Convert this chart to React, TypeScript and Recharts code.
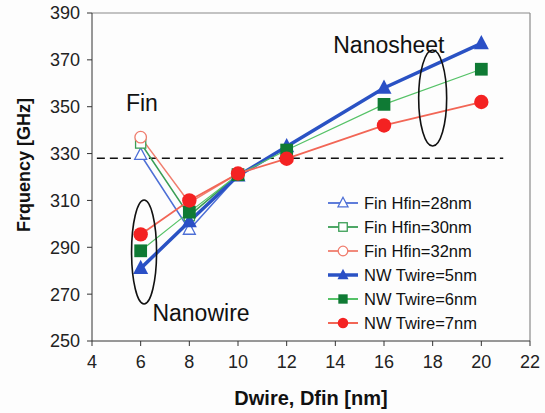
import React from "react"
import { LineChart, Line, XAxis, YAxis, ReferenceLine, ReferenceDot } from "recharts"

const wireSizes = [6, 8, 10, 12, 16, 20]
const finSizes = [6, 8, 10]

const fin28 = [329.5, 297.5, 320.5]
const fin30 = [334.5, 303.5, 321]
const fin32 = [337, 309, 321.5]
const nw5 = [281, 301, 320.5, 333, 358, 377]
const nw6 = [288.5, 305, 321, 331.5, 351, 366]
const nw7 = [295.5, 310, 321.5, 327.8, 342, 352]

const xTicks = [4, 6, 8, 10, 12, 14, 16, 18, 20, 22]
const yTicks = [250, 270, 290, 310, 330, 350, 370, 390]
const targetFreq = 328

const toPoints = (xs: number[], ys: number[]) => xs.map((x, i) => ({ x, y: ys[i] }))

type Shape = "triangle" | "square" | "circle"

interface SeriesDef {
  name: string
  xs: number[]
  ys: number[]
  line: string
  mark: string
  width: number
  shape: Shape
  filled: boolean
}

const series: SeriesDef[] = [
  { name: "Fin Hfin=28nm", xs: finSizes, ys: fin28, line: "#4d6fd6", mark: "#4d6fd6", width: 1.5, shape: "triangle", filled: false },
  { name: "Fin Hfin=30nm", xs: finSizes, ys: fin30, line: "#3a9e55", mark: "#3a9e55", width: 1.5, shape: "square", filled: false },
  { name: "Fin Hfin=32nm", xs: finSizes, ys: fin32, line: "#f07d6e", mark: "#f07d6e", width: 1.5, shape: "circle", filled: false },
  { name: "NW Twire=5nm", xs: wireSizes, ys: nw5, line: "#2a52c4", mark: "#2a4fc6", width: 3.5, shape: "triangle", filled: true },
  { name: "NW Twire=6nm", xs: wireSizes, ys: nw6, line: "#55c267", mark: "#0f7a34", width: 1.2, shape: "square", filled: true },
  { name: "NW Twire=7nm", xs: wireSizes, ys: nw7, line: "#f26656", mark: "#f42222", width: 1.8, shape: "circle", filled: true },
]

function Marker({ cx, cy, shape, filled, color, s }: { cx: number; cy: number; shape: Shape; filled: boolean; color: string; s: number }) {
  const fill = filled ? color : "#ffffff"
  const sw = filled ? 0 : 1.3
  if (shape === "triangle") {
    const h = s * 0.95
    return <polygon points={`${cx},${cy - h * 0.6} ${cx - s / 2},${cy + h * 0.4} ${cx + s / 2},${cy + h * 0.4}`} fill={fill} stroke={color} strokeWidth={sw} />
  }
  if (shape === "square") {
    const a = s * 0.85
    return <rect x={cx - a / 2} y={cy - a / 2} width={a} height={a} fill={fill} stroke={color} strokeWidth={sw} />
  }
  return <circle cx={cx} cy={cy} r={s * 0.48} fill={fill} stroke={color} strokeWidth={sw} />
}

const ellipse = (rx: number, ry: number) => (p: any) => (
  <ellipse cx={p.cx} cy={p.cy} rx={rx} ry={ry} fill="none" stroke="#111" strokeWidth={1.6} />
)

const note = (text: string) => (p: any) => (
  <text x={p.cx} y={p.cy} textAnchor="middle" dominantBaseline="central" fontSize={23} fill="#111" fontFamily="Liberation Sans, Arial, sans-serif">
    {text}
  </text>
)

export default function App() {
  return (
    <div style={{ position: "absolute", left: 0, top: 0, width: 545, height: 413, background: "#fdfdfd", fontFamily: "Liberation Sans, Arial, sans-serif" }}>
      <LineChart width={545} height={413} margin={{ top: 13, right: 15, bottom: 0, left: 0 }}>
        <XAxis
          type="number"
          dataKey="x"
          domain={[4, 22]}
          ticks={xTicks}
          allowDataOverflow
          height={72}
          tickSize={5}
          tickMargin={9}
          stroke="#333"
          tick={{ fill: "#222", fontSize: 18 }}
          label={{ value: "Dwire, Dfin [nm]", position: "insideBottom", offset: 8, fontSize: 20, fontWeight: "bold", fill: "#111" }}
        />
        <YAxis
          type="number"
          dataKey="y"
          domain={[250, 390]}
          ticks={yTicks}
          allowDataOverflow
          width={92}
          tickSize={5}
          tickMargin={7}
          stroke="#333"
          tick={{ fill: "#222", fontSize: 18 }}
          label={{ value: "Frquency [GHz]", angle: -90, position: "center", dx: -22, dy: -12, fontSize: 18, fontWeight: "bold", fill: "#111" }}
        />
        <ReferenceLine y={390} stroke="#8a8a8a" strokeWidth={1.2} />
        <ReferenceLine x={22} stroke="#8a8a8a" strokeWidth={1.2} />
        <ReferenceLine
          segment={[{ x: 4.2, y: targetFreq }, { x: 20.9, y: targetFreq }]}
          stroke="#111"
          strokeWidth={1.6}
          strokeDasharray="8 5"
        />
        {series.map((s) => (
          <Line
            key={s.name}
            data={toPoints(s.xs, s.ys)}
            dataKey="y"
            name={s.name}
            stroke={s.line}
            strokeWidth={s.width}
            isAnimationActive={false}
            dot={(p: any) => (
              <Marker key={`${s.name}-${p.index}`} cx={p.cx} cy={p.cy} shape={s.shape} filled={s.filled} color={s.mark} s={s.filled ? 15 : 12} />
            )}
            activeDot={false}
          />
        ))}
        <ReferenceDot x={6.14} y={288} shape={ellipse(12.5, 52)} ifOverflow="visible" />
        <ReferenceDot x={18.0} y={353.7} shape={ellipse(14, 48)} ifOverflow="visible" />
        <ReferenceDot x={6.05} y={351.6} shape={note("Fin")} ifOverflow="visible" />
        <ReferenceDot x={16.2} y={376.3} shape={note("Nanosheet")} ifOverflow="visible" />
        <ReferenceDot x={8.48} y={262} shape={note("Nanowire")} ifOverflow="visible" />
      </LineChart>
      <div style={{ position: "absolute", left: 326, top: 191, fontSize: 16.5, color: "#111", lineHeight: "24px" }}>
        {series.map((s) => (
          <div key={s.name} style={{ display: "flex", alignItems: "center", height: 24 }}>
            <svg width={34} height={24} style={{ marginRight: 4 }}>
              <line x1={2} y1={12} x2={32} y2={12} stroke={s.line} strokeWidth={s.filled ? Math.max(s.width, 2) : 1.8} />
              <Marker cx={17} cy={12} shape={s.shape} filled={s.filled} color={s.mark} s={s.filled ? 11 : 10} />
            </svg>
            <span>{s.name}</span>
          </div>
        ))}
      </div>
    </div>
  )
}
